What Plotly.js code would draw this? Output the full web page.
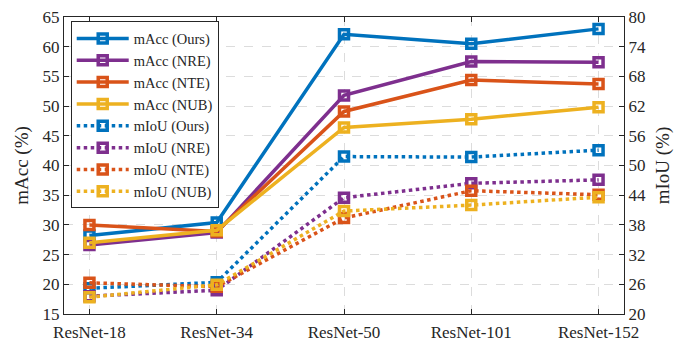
<!DOCTYPE html>
<html>
<head>
<meta charset="utf-8">
<script src="https://cdn.plot.ly/plotly-3.0.1.min.js"></script>
<style>body{margin:0;padding:0;background:#fff;}#chart{width:694px;height:345px;}</style>
</head>
<body>
<div id="chart"></div>
<script>
const categories = ["ResNet-18", "ResNet-34", "ResNet-50", "ResNet-101", "ResNet-152"];
const mAccOurs = [28.2, 30.4, 62.1, 60.5, 63.0];
const mAccNRE  = [26.6, 28.7, 51.8, 57.5, 57.4];
const mAccNTE  = [30.0, 28.9, 49.1, 54.4, 53.7];
const mAccNUB  = [27.0, 29.1, 46.4, 47.8, 49.8];
const mIoUOurs = [25.2, 26.4, 51.8, 51.7, 53.1];
const mIoUNRE  = [23.6, 24.8, 43.5, 46.4, 47.1];
const mIoUNTE  = [26.3, 25.5, 39.4, 44.9, 44.1];
const mIoUNUB  = [23.4, 25.9, 40.8, 42.0, 43.6];
const seriesNames = ["Ours", "NRE", "NTE", "NUB"];
const colors = ["#0072BD", "#7E2F8E", "#D95319", "#EDB120"];

const x = categories.map((c, i) => i);
const accSets = [mAccOurs, mAccNRE, mAccNTE, mAccNUB];
const iouSets = [mIoUOurs, mIoUNRE, mIoUNTE, mIoUNUB];
const traces = [];
accSets.forEach((ys, k) => traces.push({
  x: x, y: ys, name: "mAcc (" + seriesNames[k] + ")", type: "scatter", mode: "lines+markers",
  line: {color: colors[k], width: 3.5},
  marker: {symbol: "square-open", size: 9, color: colors[k], line: {width: 3.5, color: colors[k]}},
  yaxis: "y"
}));
iouSets.forEach((ys, k) => traces.push({
  x: x, y: ys, name: "mIoU (" + seriesNames[k] + ")", type: "scatter", mode: "lines+markers",
  line: {color: colors[k], width: 3.5, dash: "dot"},
  marker: {symbol: "square-open", size: 9, color: colors[k], line: {width: 3.5, color: colors[k]}},
  yaxis: "y2"
}));

const font = {family: "Liberation Serif, Times New Roman, serif", color: "#262626", size: 17};
const layout = {
  width: 694, height: 345,
  margin: {l: 64, r: 70, t: 17, b: 31, pad: 0},
  paper_bgcolor: "#fff", plot_bgcolor: "#fff",
  font: font,
  showlegend: true,
  legend: {
    x: 0.012, y: 0.985, xanchor: "left", yanchor: "top",
    bgcolor: "#fff", bordercolor: "#262626", borderwidth: 1,
    font: {family: font.family, size: 14.5, color: "#262626"},
    itemwidth: 52, tracegroupgap: 0
  },
  xaxis: {
    range: [-0.2, 4.2], tickmode: "array", tickvals: x, ticktext: categories,
    showline: true, linecolor: "#262626", linewidth: 1, mirror: "ticks",
    ticks: "inside", ticklen: 5, tickcolor: "#262626",
    showgrid: true, gridcolor: "#dcdcdc", griddash: "dash", gridwidth: 1,
    zeroline: false, tickfont: {size: 17}, ticklabelstandoff: 3
  },
  yaxis: {
    range: [15, 65], dtick: 5, tick0: 15,
    title: {text: "mAcc (%)", font: {size: 19}, standoff: 8},
    showline: true, linecolor: "#262626", linewidth: 1, mirror: true,
    ticks: "inside", ticklen: 5, tickcolor: "#262626",
    showgrid: true, gridcolor: "#dcdcdc", griddash: "dash", gridwidth: 1,
    zeroline: false, tickfont: {size: 17}
  },
  yaxis2: {
    range: [20, 80], dtick: 6, tick0: 20, overlaying: "y", side: "right",
    title: {text: "mIoU (%)", font: {size: 19}, standoff: 10},
    showline: true, linecolor: "#262626", linewidth: 1,
    ticks: "inside", ticklen: 5, tickcolor: "#262626",
    showgrid: false, zeroline: false, tickfont: {size: 17}
  }
};
Plotly.newPlot("chart", traces, layout, {displayModeBar: false, staticPlot: true});
</script>
</body>
</html>
